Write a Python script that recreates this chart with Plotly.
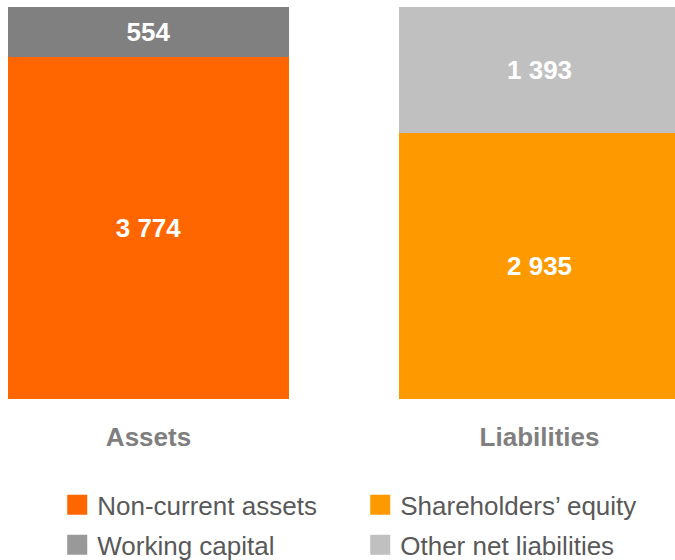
import plotly.graph_objects as go

categories = ["Assets", "Liabilities"]
bottom_names = ["Non-current assets", "Shareholders’ equity"]
bottom_values = [3774, 2935]
bottom_colors = ["#FF6600", "#FF9900"]
top_names = ["Working capital", "Other net liabilities"]
top_values = [554, 1393]
top_colors = ["#808080", "#C0C0C0"]
legend_colors = {"Non-current assets": "#FF6600", "Shareholders’ equity": "#FF9900",
                 "Working capital": "#999999", "Other net liabilities": "#C0C0C0"}

FONT = "Liberation Sans, Arial, sans-serif"
BAR_W = 0.7187

fig = go.Figure()
# bottom segments
for i, cat in enumerate(categories):
    fig.add_trace(go.Bar(
        x=[i], y=[bottom_values[i]], width=BAR_W,
        marker=dict(color=bottom_colors[i], line=dict(width=0)),
        texttemplate="%{y:,}", textposition="inside", insidetextanchor="middle",
        textfont=dict(family=FONT, size=26, color="white", weight="bold"),
        showlegend=False, hoverinfo="skip"))
# top segments
for i, cat in enumerate(categories):
    fig.add_trace(go.Bar(
        x=[i], y=[top_values[i]], width=BAR_W,
        marker=dict(color=top_colors[i], line=dict(width=0)),
        texttemplate="%{y:,}", textposition="inside", insidetextanchor="middle",
        textfont=dict(family=FONT, size=26, color="white", weight="bold"),
        showlegend=False, hoverinfo="skip"))

# legend entries: row 1 -> legend, row 2 -> legend2
legend_rows = [("legend", [bottom_names[0], bottom_names[1]]),
               ("legend2", [top_names[0], top_names[1]])]
for leg, names in legend_rows:
    for name in names:
        fig.add_trace(go.Scatter(
            x=[None], y=[None], mode="markers", name=name, legend=leg,
            marker=dict(symbol="square", size=16, color=legend_colors[name],
                        line=dict(width=4, color=legend_colors[name])),
            showlegend=True, hoverinfo="skip"))

legend_style = dict(orientation="h", x=0.0848, xanchor="left", yanchor="top",
                    font=dict(family=FONT, size=26, color="#595959"),
                    entrywidth=258, entrywidthmode="pixels",
                    itemsizing="trace", traceorder="normal",
                    bgcolor="rgba(0,0,0,0)")

fig.update_layout(
    barmode="stack",
    width=675, height=560,
    margin=dict(l=0, r=0, t=7, b=161, autoexpand=False),
    paper_bgcolor="white", plot_bgcolor="white",
    separators=". ",
    uniformtext=dict(mode="show", minsize=10),
    xaxis=dict(range=[-0.3798, 1.3465], tickmode="array",
               tickvals=[0, 1], ticktext=categories,
               showgrid=False, zeroline=False, showline=False, ticks="",
               tickfont=dict(family=FONT, size=26, color="#7F7F7F", weight="bold"),
               ticklabelstandoff=20, fixedrange=True, automargin=False),
    yaxis=dict(range=[0, 4328], visible=False, fixedrange=True),
    legend=dict(y=-0.210, **legend_style),
    legend2=dict(y=-0.312, **legend_style),
    showlegend=True,
)

fig.write_html("out.html", config={"displayModeBar": False},
               post_script="document.body.style.margin='0';document.body.style.padding='0';")
